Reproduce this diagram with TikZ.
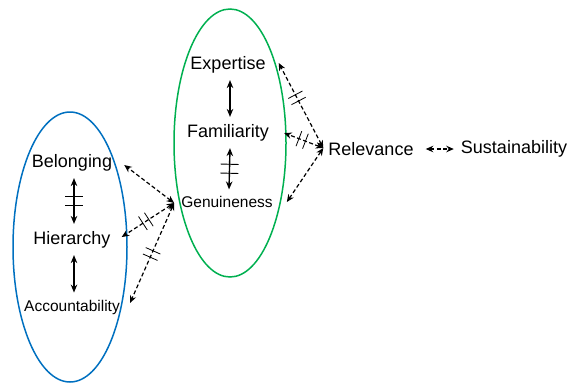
\documentclass[tikz,border=0pt]{standalone}
\usepackage{fontspec}
\setmainfont{Liberation Sans}
\usetikzlibrary{arrows.meta,decorations.markings,calc,shapes.geometric}
\definecolor{setblue}{RGB}{0,112,192}
\definecolor{setgreen}{RGB}{0,176,80}
\begin{document}
\begin{tikzpicture}[x=1pt,y=-1pt,
  big/.style={font=\fontsize{18}{20}\selectfont, inner sep=0pt},
  small/.style={font=\fontsize{15.5}{18}\selectfont, inner sep=0pt},
  setellipse/.style={ellipse, draw, line width=1.5pt, inner sep=0pt},
  solidlink/.style={line width=1.4pt, {Stealth[length=8pt,width=6.5pt]}-{Stealth[length=8pt,width=6.5pt]}},
  dashlink/.style={line width=1.2pt, dash pattern=on 4pt off 2.5pt, {Stealth[length=7.5pt,width=6.5pt]}-{Stealth[length=7.5pt,width=6.5pt]}},
  bars/.style={postaction={decorate}, decoration={markings, mark=at position #1 with {\draw[solid, arrows=-, line width=0.8pt] (-3.5pt,-8pt) -- (-3.5pt,8pt) (3.5pt,-8pt) -- (3.5pt,8pt);}}},
  vbars/.style={postaction={decorate}, decoration={markings, mark=at position #1 with {\draw[solid, arrows=-, line width=0.9pt] (-4.5pt,-9pt) -- (-4.5pt,9pt) (4.5pt,-9pt) -- (4.5pt,9pt);}}}
]
\useasboundingbox (0,0) rectangle (569,384);
% sets
\node[setellipse, setblue, minimum width=114pt, minimum height=270pt] (blueset) at (70,247) {};
\node[setellipse, setgreen, minimum width=112pt, minimum height=268pt] (greenset) at (230,143) {};
% texts
\node[big] (bel) at (72,163) {Belonging};
\node[big] (hie) at (72,240) {Hierarchy};
\node[small] (acc) at (72,307) {Accountability};
\node[big] (exp) at (228,65) {Expertise};
\node[big] (fam) at (228,133) {Familiarity};
\node[small] (gen) at (227,202) {Genuineness};
\node[big] (rel) at (371,149) {Relevance};
\node[big] (sus) at (514,149) {Sustainability};
% inner links
\draw[solidlink, vbars=0.5] ($(bel.south)+(2,6.5)$) -- ($(hie.north)+(2,-7.5)$);
\draw[solidlink] ($(hie.south)+(2,6.5)$) -- ($(acc.north)+(2,-7)$);
\draw[solidlink] ($(exp.south)+(2,6.5)$) -- ($(fam.north)+(2,-7.5)$);
\draw[solidlink, vbars=0.5] ($(fam.south)+(2,6.5)$) -- ($(gen.north)+(2,-6.7)$);
% cross links left
\coordinate (gl) at ($(gen.west)+(-7,1)$);
\draw[dashlink] (gl) -- ($(bel.east)+(12,2)$);
\draw[dashlink, bars=0.54] (gl) -- ($(hie.east)+(11,-3)$);
\draw[dashlink, bars=0.51] (gl) -- ($(acc.east)+(10,-4)$);
% cross links right
\coordinate (rl) at ($(rel.west)+(-5,-1)$);
\draw[dashlink, bars=0.59] (rl) -- ($(exp.east)+(13,-2)$);
\draw[dashlink, bars=0.54] (rl) -- ($(fam.east)+(15,0)$);
\draw[dashlink] (rl) -- ($(gen.east)+(14,0)$);
\draw[dashlink] ($(rel.east)+(12,0)$) -- ($(sus.west)+(-7,0)$);
\end{tikzpicture}
\end{document}
